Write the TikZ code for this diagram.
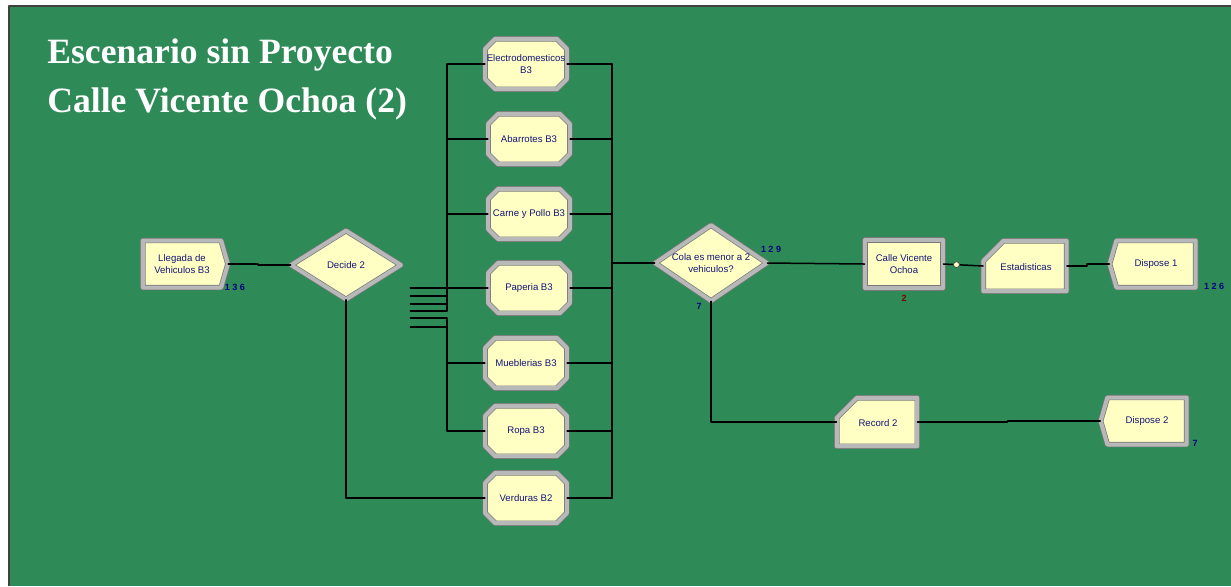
\documentclass[tikz,border=0pt]{standalone}
\usepackage{fontspec}
\setmainfont{Liberation Serif}
\newfontfamily\arenafont{Liberation Sans}
\usetikzlibrary{shapes.geometric,shapes.misc,shapes.symbols}
\definecolor{simgreen}{RGB}{46,139,87}
\definecolor{modfill}{RGB}{255,255,196}
\definecolor{modedge}{RGB}{120,120,120}
\definecolor{modband}{RGB}{184,184,184}
\definecolor{modtext}{RGB}{20,20,120}
\definecolor{cntblue}{RGB}{0,0,128}
\definecolor{cntred}{RGB}{128,0,0}
\begin{document}
\begin{tikzpicture}[x=0.5pt,y=-0.5pt,line cap=round,line join=round,
  modtxt/.style={align=center,text=modtext,font=\arenafont\fontsize{4.8}{5.8}\selectfont},
  module/.style={modtxt,fill=modfill,draw=modedge,double=modband,double distance=2pt,line width=0.35pt,
    inner sep=1pt},
  procbox/.style={module,chamfered rectangle,chamfered rectangle xsep=2.5pt,chamfered rectangle ysep=2.5pt,
    inner xsep=17.9pt,inner ysep=10.1pt},
  plainbox/.style={module,rectangle,minimum width=39pt,minimum height=24pt},
  record/.style={module,chamfered rectangle,chamfered rectangle corners=north west,
    chamfered rectangle xsep=5pt,chamfered rectangle ysep=5pt,inner xsep=15.8pt,inner ysep=7.6pt},
  create/.style={module,signal,signal to=east,signal pointer angle=148,
    minimum width=42.5pt,minimum height=23.5pt},
  dispose/.style={module,signal,signal to=west,signal pointer angle=148,
    minimum width=43pt,minimum height=23.5pt},
  decide/.style={module,diamond,inner sep=0pt},
  counter/.style={inner sep=0pt,text=cntblue,font=\arenafont\bfseries\fontsize{4.5}{5}\selectfont},
  joint/.style={circle,fill=modfill,draw=black!70,line width=0.4pt,inner sep=0pt,minimum size=3pt},
  wire/.style={line width=0.75pt,draw=black},
  title/.style={anchor=base west,inner sep=0pt,text=white,font=\fontsize{17.8}{20}\bfseries\selectfont}]
  \useasboundingbox (0,0) rectangle (1231,586);
  \fill[white] (0,0) rectangle (1231,586);
  \fill[simgreen] (9,6) rectangle (1231,586);
  \draw[line width=1pt,black!75,line cap=butt] (8.5,586) -- (8.5,5.5) -- (1231,5.5);

  \node[title] (t1) at (47,63) {Escenario sin Proyecto};
  \node[title] (t2) at (47,112) {Calle Vicente Ochoa (2)};

  \node[create] (lleg) at (182,264) {Llegada de\\Vehiculos B3};
  \node[decide,minimum width=55pt,minimum height=34.5pt] (dec) at (346,265) {};
  \node[modtxt] (dect) at (dec.center) {Decide 2};
  \foreach \b/\x/\y/\t in {ele/526/64/{Electrodomesticos\\B3},aba/529/139/Abarrotes B3,
      car/529/214/Carne y Pollo B3,pap/529/288/Paperia B3,mue/526/363/Mueblerias B3,
      rop/526/431/Ropa B3,ver/526/498/Verduras B2} {
    \node[procbox] (\b) at (\x,\y) {};
    \node[modtxt] (\b t) at (\b.center) {\t};
  }
  \node[decide,minimum width=56pt,minimum height=38pt] (cola) at (711,263) {};
  \node[modtxt] (colat) at (cola.center) {Cola es menor a 2\\vehiculos?};
  \node[plainbox] (calle) at (904,264) {Calle Vicente\\Ochoa};
  \node[record] (est) at (1025,266) {};
  \node[modtxt] (estt) at ([shift={(1,1)}]est.center) {Estadisticas};
  \node[dispose] (dis1) at (1156,264) {Dispose 1};
  \node[record,inner xsep=15.1pt,inner ysep=7.1pt] (rec) at (877,422) {};
  \node[modtxt] (rect) at ([shift={(1,1)}]rec.center) {Record 2};
  \node[dispose] (dis2) at (1147,421) {Dispose 2};

  \node[counter] (n1) at (235,287) {1 3 6};
  \node[counter] (n2) at (771,249) {1 2 9};
  \node[counter] (n3) at (699,306) {7};
  \node[counter,text=cntred] (n4) at (904,298) {2};
  \node[counter] (n5) at (1214,286) {1 2 6};
  \node[counter] (n6) at (1195,443) {7};

  \coordinate (busL) at (447,0);
  \coordinate (busR) at (612,0);
  \draw[wire] (lleg.east) -- ++(30,0) |- (dec.west);
  \foreach \i/\dy/\b in {1/23/pap,2/31/car,3/39/aba,4/46/ele,5/53/mue,6/62/rop} {
    \coordinate (out\i) at ([shift={(9,\dy)}]dec.east);
    \draw[wire] (out\i) -- (out\i -| busL) |- (\b.west);
  }
  \draw[wire] (dec.south) |- (ver.west);
  \foreach \b in {ele,aba,car,pap,mue,rop,ver}
    \draw[wire] (\b.east) -- (\b.east -| busR);
  \draw[wire] (ele.east -| busR) -- (ver.east -| busR);
  \draw[wire] (busR |- cola.west) -- (cola.west);
  \draw[wire] (cola.east) -- (calle.west);
  \draw[wire] (calle.east) -- (est.west) node[pos=0.33,joint] (dot) {};
  \draw[wire] (est.east) -- ++(20,0) |- (dis1.west);
  \draw[wire] (cola.south) |- (rec.west);
  \draw[wire] (rec.east) -- ++(90,0) |- (dis2.west);
\end{tikzpicture}
\end{document}
